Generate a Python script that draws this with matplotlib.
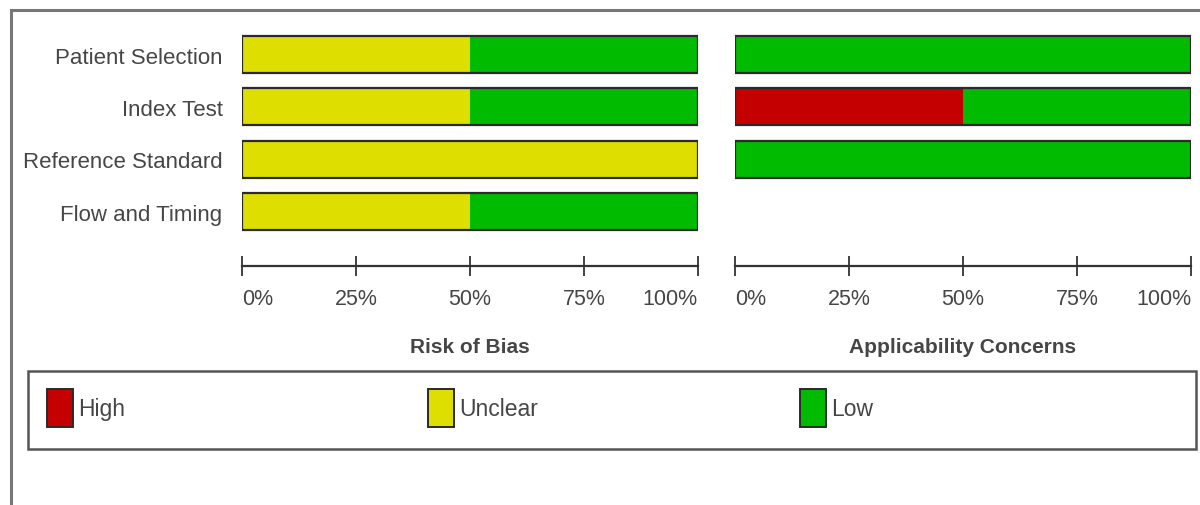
"""QUADAS-2 style summary: risk of bias and applicability concerns."""

import numpy as np
import matplotlib

matplotlib.use("Agg")
import matplotlib.pyplot as plt
from matplotlib.patches import Rectangle
from matplotlib.lines import Line2D

plt.rcParams["font.family"] = ["Liberation Sans Narrow", "Liberation Sans", "DejaVu Sans"]

# data (percent of studies)
domains = ["Patient Selection", "Index Test", "Reference Standard", "Flow and Timing"]
rob_high = [0, 0, 0, 0]
rob_unclear = [50, 50, 100, 50]
rob_low = [50, 50, 0, 50]
app_high = [0, 50, 0, np.nan]
app_unclear = [0, 0, 0, np.nan]
app_low = [100, 50, 100, np.nan]

ticks = [0, 25, 50, 75, 100]
tick_labels = ["0%", "25%", "50%", "75%", "100%"]
levels = ["High", "Unclear", "Low"]
colors = ["#c40000", "#dede00", "#00bb00"]

TEXT = "#464646"
EDGE = "#2a2a2a"
W, H = 1200, 506

fig = plt.figure(figsize=(W / 100, H / 100), dpi=100)


def fx(px):
    return px / W


def fy(py):
    return 1 - py / H


def panel(left_px, series, title, show_labels):
    ax = fig.add_axes([fx(left_px), fy(267), fx(456), fy(30) - fy(267)])
    y = np.arange(len(domains))
    left = np.zeros(len(domains))
    for vals, c in zip(series, colors):
        v = np.array(vals, dtype=float)
        ax.barh(y, v, left=left, height=0.705, color=c, linewidth=0)
        left = left + np.nan_to_num(v)
    total = np.sum(np.array(series, dtype=float), axis=0)
    ax.barh(y, total, height=0.705, fill=False, edgecolor=EDGE, linewidth=1.6)
    ax.set_xlim(0, 100)
    ax.set_ylim(4.03, -0.486)
    for s in ("top", "right", "left"):
        ax.spines[s].set_visible(False)
    ax.spines["bottom"].set_color("#333333")
    ax.spines["bottom"].set_linewidth(1.6)
    ax.set_xticks(ticks)
    ax.set_xticklabels(tick_labels, fontsize=15.5, color=TEXT)
    ax.tick_params(axis="x", direction="inout", length=15, width=1.3, color="#333333", pad=8.5)
    labs = ax.get_xticklabels()
    labs[0].set_ha("left")
    labs[-1].set_ha("right")
    ax.set_yticks(y)
    if show_labels:
        ax.set_yticklabels(domains, fontsize=16, color=TEXT)
    else:
        ax.set_yticklabels([])
    ax.tick_params(axis="y", length=0, pad=14)
    ax.set_xlabel(title, fontsize=15, fontweight="bold", color=TEXT, labelpad=20)
    ax.patch.set_alpha(0)
    return ax


panel(242, [rob_high, rob_unclear, rob_low], "Risk of Bias", True)
panel(735, [app_high, app_unclear, app_low], "Applicability Concerns", False)

# legend box
fig.patches.append(Rectangle((fx(28), fy(450)), fx(1168), fy(372) - fy(450),
                             transform=fig.transFigure, fill=False,
                             edgecolor="#555555", linewidth=1.8))
for lab, c, xp in zip(levels, colors, [47, 428, 800]):
    fig.patches.append(Rectangle((fx(xp), fy(428)), fx(26), fy(390) - fy(428),
                                 transform=fig.transFigure, facecolor=c,
                                 edgecolor=EDGE, linewidth=1.4))
    fig.text(fx(xp + 31), fy(410), lab, fontsize=16.5, color=TEXT, va="center", ha="left")

# outer frame (top and left)
fig.lines.append(Line2D([fx(11), 1], [fy(11), fy(11)], transform=fig.transFigure,
                        color="#777777", linewidth=2.2))
fig.lines.append(Line2D([fx(11), fx(11)], [fy(11), 0], transform=fig.transFigure,
                        color="#777777", linewidth=2.2))

fig.savefig("out.png", dpi=100)
